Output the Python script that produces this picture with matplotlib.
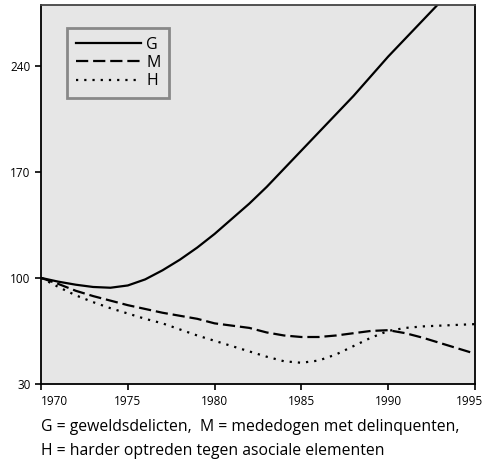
import matplotlib
matplotlib.use("Agg")
import matplotlib.pyplot as plt
from matplotlib.lines import Line2D
from matplotlib.transforms import ScaledTranslation

# jaar en indexwaarden (1970 = 100)
years = list(range(1970, 1996))
g_vals = [100, 97.5, 95.5, 94, 93.5, 95, 99, 105, 112, 120, 129, 139, 149,
          160, 172, 184, 196, 208, 220, 233, 246, 258, 270, 282, 294, 306]
m_vals = [100, 96, 91.5, 88, 85, 82, 79.5, 77, 75, 73, 70, 68.5, 67,
          64, 62, 61, 61, 62, 63.5, 65, 65.5, 63.5, 60.5, 57, 53.5, 50]
h_vals = [100, 94, 88.5, 84, 80, 76.5, 73, 70, 66, 62, 58.5, 55, 51.5,
          48, 45, 44, 45.5, 49.5, 55, 60.5, 65, 67, 68, 68.5, 69, 69.5]

x_ticks = [1970, 1975, 1980, 1985, 1990, 1995]
y_ticks = [30, 100, 170, 240]
caption = ["G = geweldsdelicten,  M = mededogen met delinquenten,",
           "H = harder optreden tegen asociale elementen"]

plt.rcParams["font.family"] = ["Open Sans", "DejaVu Sans"]

fig = plt.figure(figsize=(4.86, 4.61), dpi=100)
ax = fig.add_axes([41 / 486, 77 / 461, 434 / 486, 379 / 461])
ax.set_facecolor("#e6e6e6")

lw = 1.6
dash = (0, (5.5, 2.2))
dots = (0, (1, 2.7))
ax.plot(years, g_vals, color="black", lw=lw)
ax.plot(years, m_vals, color="black", lw=lw, linestyle=dash)
ax.plot(years, h_vals, color="black", lw=lw, linestyle=dots)

ax.set_xlim(1970, 1995)
ax.set_ylim(30, 280)
ax.set_xticks(x_ticks)
ax.set_yticks(y_ticks)
ax.tick_params(axis="both", labelsize=8.5, length=4, width=1.2, color="black")
ax.tick_params(axis="x", pad=4)
xlabels = ax.get_xticklabels()
xlabels[0].set_horizontalalignment("left")
# laatste label iets naar links, zoals in het origineel
xlabels[-1].set_transform(xlabels[-1].get_transform()
                          + ScaledTranslation(-4 / 72, 0, fig.dpi_scale_trans))
for side in ["left", "right", "bottom"]:
    ax.spines[side].set_color("black")
    ax.spines[side].set_linewidth(1.3)
ax.spines["top"].set_color("#444444")
ax.spines["top"].set_linewidth(1.3)

handles = [
    Line2D([], [], color="black", lw=lw),
    Line2D([], [], color="black", lw=lw, linestyle=dash),
    Line2D([], [], color="black", lw=lw, linestyle=dots),
]
leg = ax.legend(handles, ["G", "M", "H"], loc="upper left",
                bbox_to_anchor=(0.06, 0.94), fontsize=11.5, frameon=True,
                fancybox=False, handlelength=4.1, handletextpad=0.3,
                labelspacing=0.15, borderpad=0.55, borderaxespad=0)
frame = leg.get_frame()
frame.set_facecolor("#e6e6e6")
frame.set_edgecolor("#888888")
frame.set_linewidth(2)
frame.set_alpha(1)

fig.text(41 / 486, 1 - 427 / 461, caption[0], fontsize=11.3, va="center", ha="left")
fig.text(41 / 486, 1 - 451 / 461, caption[1], fontsize=11.3, va="center", ha="left")

fig.savefig("out.png", dpi=100)
